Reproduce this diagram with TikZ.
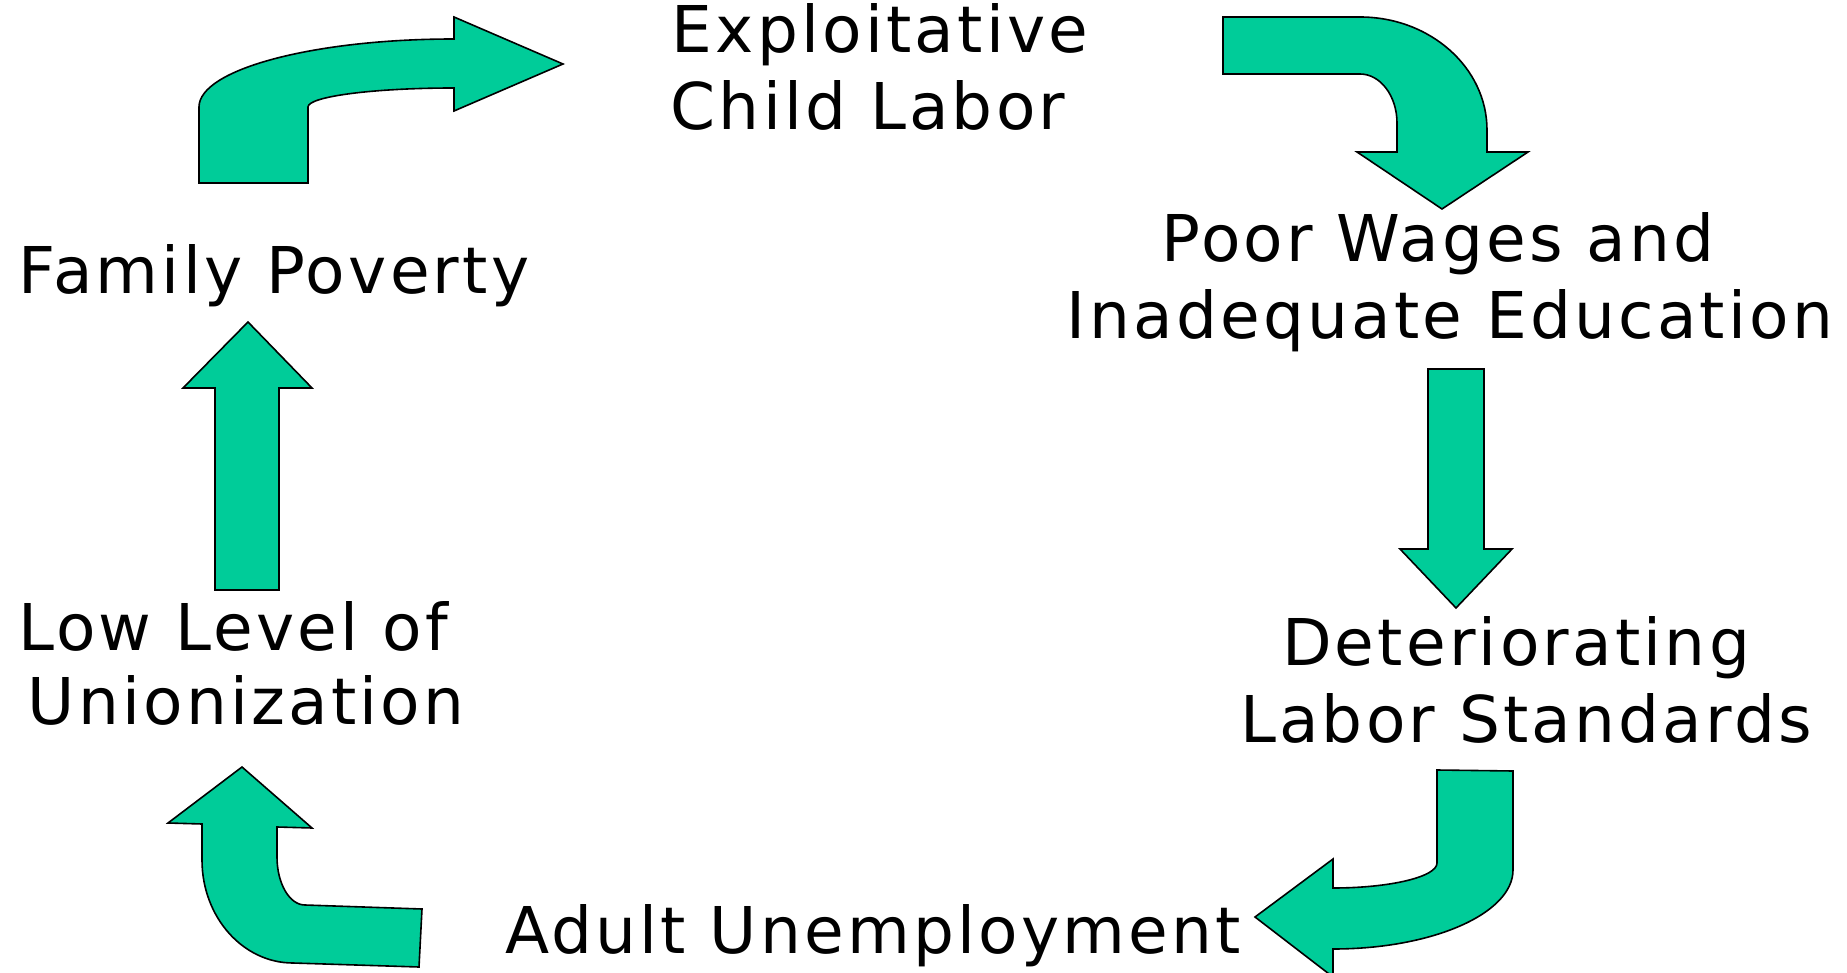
\documentclass[tikz,border=0pt]{standalone}
\usepackage{fontspec}
\setmainfont{DejaVu Sans}[LetterSpace=5]
\definecolor{arrowgreen}{RGB}{0,204,153}
\begin{document}
\begin{tikzpicture}[x=1pt,y=-1pt,
  blockarrow/.style={fill=arrowgreen,draw=black,line width=1.6pt,line join=miter},
  lbl/.style={font=\fontsize{64.5}{77}\selectfont,inner sep=0pt,anchor=base}]
\useasboundingbox (0,0) rectangle (1847,973);

% labels
\node[lbl] (expA) at (880,53) {Exploitative};
\node[lbl] (expB) at (868,130) {Child Labor};
\node[lbl] (fam) at (274,294) {Family Poverty};
\node[lbl] (poorA) at (1438,262) {Poor Wages and};
\node[lbl] (poorB) at (1450,339) {Inadequate Education};
\node[lbl] (detA) at (1516,665) {Deteriorating};
\node[lbl] (detB) at (1526,742) {Labor Standards};
\node[lbl] (lowA) at (233,650) {Low Level of};
\node[lbl] (lowB) at (246,724) {Unionization};
\node[lbl] (adult) at (873,953) {Adult Unemployment};

% arrow 1: up then right
\draw[blockarrow] (199,183) -- (199,107)
  .. controls (199,69.5) and (313.2,39) .. (454,39)
  -- (454,17) -- (563,64) -- (454,111) -- (454,88)
  .. controls (373.4,88) and (308,96.5) .. (308,107)
  -- (308,183) -- cycle;

% arrow 2: right then down
\draw[blockarrow] (1223,17) -- (1360,17)
  .. controls (1430,17) and (1487,67.6) .. (1487,130)
  -- (1487,152) -- (1528,152) -- (1442,209) -- (1357,152) -- (1397,152)
  -- (1397,123)
  .. controls (1397,96) and (1380.4,74) .. (1360,74)
  -- (1223,74) -- cycle;

% arrow 3: straight down
\draw[blockarrow] (1428,369) -- (1484,369) -- (1484,549) -- (1512,549)
  -- (1456,608) -- (1400,549) -- (1428,549) -- cycle;

% arrow 4: down then left
\draw[blockarrow] (1513,771) -- (1513,870)
  .. controls (1513,913.6) and (1432.4,949) .. (1333,949)
  -- (1333,977) -- (1255,917) -- (1333,859) -- (1333,888)
  .. controls (1390.4,888) and (1437,876.8) .. (1437,863)
  -- (1437,770) -- cycle;

% arrow 5: left then up
\draw[blockarrow] (419,967) -- (293,963)
  .. controls (242.8,963) and (202,916.9) .. (202,860)
  -- (202,824) -- (168,823) -- (242,767) -- (312,828) -- (277,827)
  -- (277,857)
  .. controls (277,883.5) and (289.5,905) .. (305,905)
  -- (422,909) -- cycle;

% arrow 6: straight up
\draw[blockarrow] (215,590) -- (279,590) -- (279,388) -- (312,388)
  -- (248,322) -- (183,388) -- (215,388) -- cycle;
\end{tikzpicture}
\end{document}
